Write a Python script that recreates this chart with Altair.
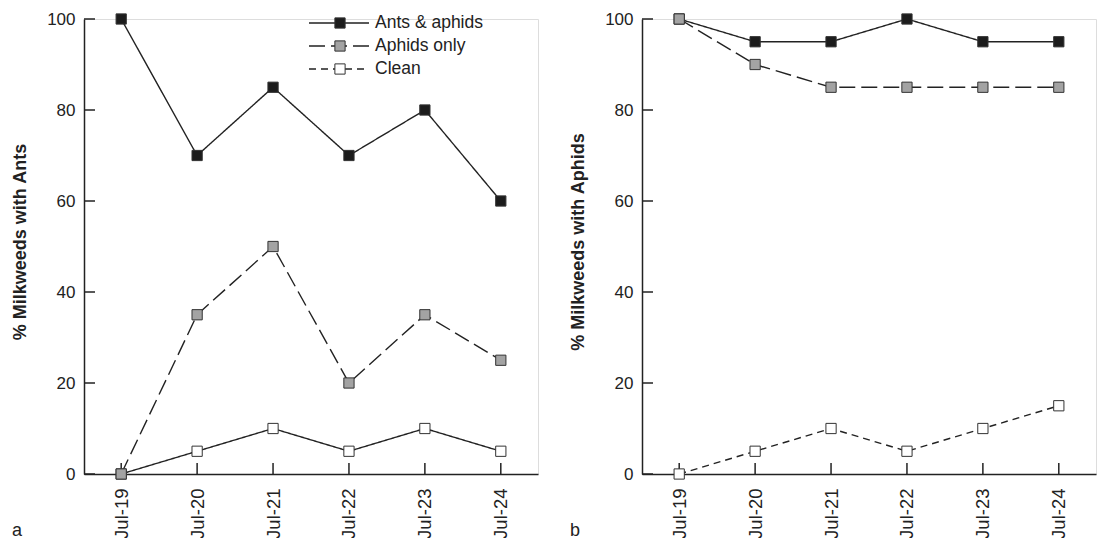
import json
import altair as alt
import pandas as pd

# ---- data ----
dates = ["Jul-19", "Jul-20", "Jul-21", "Jul-22", "Jul-23", "Jul-24"]
series_names = ["Ants & aphids", "Aphids only", "Clean"]

a_ants_aphids = [100, 70, 85, 70, 80, 60]
a_aphids_only = [0, 35, 50, 20, 35, 25]
a_clean = [0, 5, 10, 5, 10, 5]

b_ants_aphids = [100, 95, 95, 100, 95, 95]
b_aphids_only = [100, 90, 85, 85, 85, 85]
b_clean = [0, 5, 10, 5, 10, 15]

y_ticks = [0, 20, 40, 60, 80, 100]

# ---- styles ----
FONT = "Liberation Sans"
INK = "#222222"
FILLS = {"Ants & aphids": "#1c1c1c", "Aphids only": "#a3a3a3", "Clean": "#ffffff"}
DASH_B = {"Ants & aphids": [1, 0], "Aphids only": [16, 6], "Clean": [7, 5]}
DASH_A = {"Ants & aphids": [1, 0], "Aphids only": [16, 6], "Clean": [1, 0]}
W, H = 454, 455
XDOM = [-0.49, 5.49]
XLBL = 18.5
YLBL = 17

label_expr = json.dumps(dates) + "[datum.value]"


def series_df(vals):
    return pd.DataFrame({"idx": list(range(len(dates))), "date": dates, "value": vals})


def panel(vals_by_series, dashes, ytitle, letter, legend=False):
    x = alt.X("idx:Q", scale=alt.Scale(domain=XDOM, nice=False, zero=False),
              axis=alt.Axis(values=list(range(len(dates))), labelExpr=label_expr,
                            labelAngle=-90, ticks=False, grid=False, labelPadding=14,
                            domainColor=INK, domainWidth=1.5, labelFontSize=XLBL,
                            labelColor=INK, labelFont=FONT, title=None))
    y = alt.Y("value:Q", scale=alt.Scale(domain=[0, 100], nice=False),
              axis=alt.Axis(values=y_ticks, ticks=False, grid=False, labelPadding=9,
                            domainColor=INK, domainWidth=1.5, labelFontSize=YLBL,
                            labelColor=INK, labelFont=FONT, title=ytitle,
                            titleFont=FONT, titleFontSize=18, titleFontWeight="bold",
                            titleColor=INK, titleX=-64, titleY=H / 2 - 5,
                            titleAngle=-90, titleBaseline="middle", titleAlign="center"))
    layers = []
    # inward ticks
    xt = pd.DataFrame({"idx": list(range(len(dates)))})
    layers.append(alt.Chart(xt).mark_rule(color=INK, strokeWidth=1.5).encode(
        x=alt.X("idx:Q", scale=alt.Scale(domain=XDOM, nice=False, zero=False)),
        y=alt.value(H), y2=alt.value(H - 11)))
    yt = pd.DataFrame({"value": y_ticks})
    layers.append(alt.Chart(yt).mark_rule(color=INK, strokeWidth=1.5).encode(
        y=alt.Y("value:Q", scale=alt.Scale(domain=[0, 100], nice=False)),
        x=alt.value(0), x2=alt.value(11)))
    order = ["Clean", "Ants & aphids", "Aphids only"]
    base_done = False
    for name in order:
        df = series_df(vals_by_series[name])
        enc_x = x if not base_done else alt.X("idx:Q")
        enc_y = y if not base_done else alt.Y("value:Q")
        base_done = True
        layers.append(alt.Chart(df).mark_line(color=INK, strokeWidth=1.4,
                                              strokeDash=dashes[name]).encode(x=enc_x, y=enc_y))
    for name in order:
        df = series_df(vals_by_series[name])
        layers.append(alt.Chart(df).mark_square(size=105, filled=True, opacity=1,
                                                fill=FILLS[name], stroke="#333333",
                                                strokeWidth=1).encode(x="idx:Q", y="value:Q"))
    if legend:
        rows_y = [4, 27, 50]
        for name, ry in zip(series_names, rows_y):
            ldf = pd.DataFrame({"label": [name]})
            layers.append(alt.Chart(ldf).mark_rule(color=INK, strokeWidth=1.4,
                                                   strokeDash=DASH_B[name]).encode(
                x=alt.value(225), x2=alt.value(285), y=alt.value(ry)))
            layers.append(alt.Chart(ldf).mark_square(size=105, filled=True, opacity=1,
                                                     fill=FILLS[name], stroke="#333333",
                                                     strokeWidth=1).encode(
                x=alt.value(256), y=alt.value(ry)))
            layers.append(alt.Chart(ldf).mark_text(align="left", baseline="middle",
                                                   font=FONT, fontSize=17.5, color=INK).encode(
                x=alt.value(291), y=alt.value(ry), text="label:N"))
    ldf = pd.DataFrame({"t": [letter]})
    layers.append(alt.Chart(ldf).mark_text(align="left", baseline="alphabetic",
                                           font=FONT, fontSize=18, color=INK).encode(
        x=alt.value(-72), y=alt.value(H + 62), text="t:N"))
    return alt.layer(*layers).properties(width=W, height=H)


left = panel({"Ants & aphids": a_ants_aphids, "Aphids only": a_aphids_only, "Clean": a_clean},
             DASH_A, "% Milkweeds with Ants", "a", legend=True)
right = panel({"Ants & aphids": b_ants_aphids, "Aphids only": b_aphids_only, "Clean": b_clean},
              DASH_B, "% Milkweeds with Aphids", "b")

chart = alt.hconcat(left, right, spacing=29).properties(
    padding={"left": 10, "top": 9, "right": 0, "bottom": 0}
).configure_view(stroke=None).configure(background="white")

chart.save("out.html", embed_options={"renderer": "svg", "actions": False})
